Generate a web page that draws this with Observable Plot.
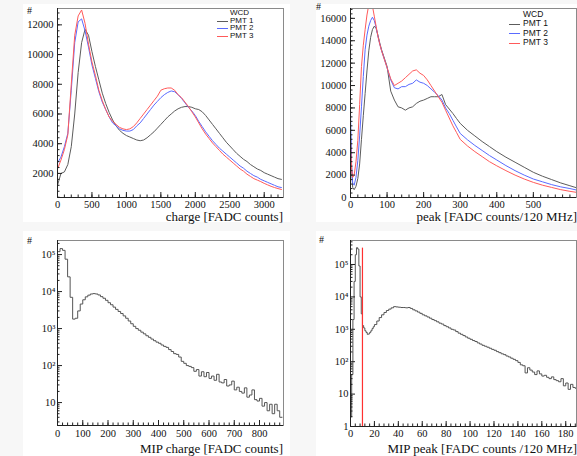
<!DOCTYPE html>
<html><head><meta charset="utf-8">
<script src="https://cdn.jsdelivr.net/npm/d3@7"></script>
<script src="https://cdn.jsdelivr.net/npm/@observablehq/plot@0.6"></script>
<style>
body{margin:0;background:#f7f7f7;}
#root{position:relative;width:577px;height:456px;overflow:hidden;font-family:"Liberation Serif","Times New Roman",serif;}
.pad{position:absolute;background:#fff;}
.panel{position:absolute;}
.lbl{position:absolute;white-space:nowrap;color:#111;line-height:1;}
.ttl{font-size:13px;}
.hash{font-size:10px;}
.leg{position:absolute;font-family:"Liberation Sans",Arial,sans-serif;color:#111;white-space:nowrap;line-height:1;}
.sw{position:absolute;height:0;border-top:1px solid;}
</style></head>
<body><div id="root">
<div class="pad" style="left:23px;top:4px;width:267px;height:218px"></div>
<div class="pad" style="left:316px;top:4px;width:261px;height:218px"></div>
<div class="pad" style="left:23px;top:231px;width:267px;height:225px"></div>
<div class="pad" style="left:316px;top:231px;width:261px;height:225px"></div>
</div>
<script>
// ---------- data ----------
const seriesNames = ["PMT 1", "PMT 2", "PMT 3"];
const seriesColors = ["#5c5c5c", "#5a6bff", "#ff5a5a"];

// charge histogram (FADC counts)
const chargeBins = [0,50,100,150,200,250,300,350,400,450,500,550,600,650,700,750,800,850,900,950,1000,1050,1100,1150,1200,1250,1300,1350,1400,1450,1500,1550,1600,1650,1700,1750,1800,1850,1900,1950,2000,2050,2100,2150,2200,2250,2300,2350,2400,2450,2500,2550,2600,2650,2700,2750,2800,2850,2900,2950,3000,3050,3100,3150,3200,3250];
const chargePMT1 = [1200,2000,2100,2600,3800,6000,8800,10800,11700,11300,10200,9200,8300,7400,6700,6100,5600,5200,4900,4700,4550,4450,4350,4250,4200,4250,4400,4600,4800,5050,5300,5550,5800,6000,6200,6350,6450,6500,6500,6450,6350,6300,6150,5900,5600,5300,5000,4700,4400,4100,3850,3600,3350,3150,2950,2800,2600,2450,2300,2200,2050,1950,1850,1750,1650,1600];
const chargePMT2 = [2700,3100,3800,4700,7600,10800,12200,12400,11600,10500,9300,8400,7500,6800,6300,5800,5400,5200,5000,4900,4850,4850,4950,5200,5400,5700,6000,6300,6600,6850,7100,7300,7450,7550,7500,7300,7050,6750,6450,6200,5900,5500,5150,4800,4500,4200,3950,3700,3500,3300,3100,2900,2700,2500,2350,2150,2000,1850,1750,1600,1500,1400,1300,1200,1100,1050];
const chargePMT3 = [2300,2900,3600,4600,8000,11300,12600,13000,12100,10700,9500,8600,7600,6900,6300,5800,5500,5300,5100,5000,4950,5000,5150,5400,5700,6000,6300,6600,6900,7200,7600,7700,7750,7750,7600,7300,7100,6800,6500,6150,5800,5400,5000,4650,4350,4050,3800,3550,3300,3100,2900,2700,2500,2300,2150,1950,1800,1650,1550,1450,1330,1230,1130,1050,980,920];

// peak histogram (FADC counts/120 MHz)
const peakBins = [0,3,6,10,15,20,25,30,35,40,45,50,55,60,65,70,75,80,85,90,95,100,110,120,130,140,150,160,170,180,190,200,210,220,230,240,250,260,270,280,290,300,320,340,360,380,400,425,450,475,500,525,550,575,600,620];
const peakPMT1 = [6000,2500,900,700,1000,1700,3000,5200,7300,9300,11300,13100,14300,15000,15300,15100,14500,13800,13200,12700,12200,11700,9500,8700,8100,8000,7800,8000,8100,8400,8600,8700,8850,9000,9000,9000,9200,8300,7900,7500,7050,6620,6000,5500,5000,4550,4100,3600,3150,2700,2250,1900,1600,1300,1050,850];
const peakPMT2 = [7600,3000,1300,1100,1800,3300,5500,8100,10800,13200,14500,15300,15800,16100,15800,15200,14400,13700,13100,12600,12100,11600,10500,9800,9700,9900,9900,10100,10200,10500,10300,10200,10000,9700,9400,9100,8700,8000,7500,6900,6300,5720,5150,4650,4200,3750,3350,2850,2400,2000,1650,1400,1150,950,800,650];
const peakPMT3 = [5000,2500,1800,2000,3200,5100,8300,11700,13600,15000,16300,17200,17200,17100,16200,15300,14400,13700,13100,12600,12100,11600,10600,10000,10200,10400,10700,11000,11300,11400,11100,10900,10500,10000,9500,9000,8500,7800,7100,6400,5800,5190,4600,4100,3650,3200,2830,2400,2000,1650,1350,1100,900,700,550,450];

// MIP charge histogram
const mipChargeBins = [0,10,20,30,40,50,60,70,80,90,100,110,120,130,140,150,160,170,180,190,200,210,220,230,240,250,260,270,280,290,300,310,320,330,340,350,360,370,380,390,400,410,420,430,440,450,460,470,480,490,500,510,520,530,540,550,560,570,580,590,600,610,620,630,640,650,660,670,680,690,700,710,720,730,740,750,760,770,780,790,800,810,820,830,840,850,860,870,880,890];
const mipChargeCounts = [120000,145000,130000,75000,25000,7000,1800,1900,3000,4600,6000,7200,8000,8600,8800,8600,8100,7300,6600,5800,5000,4400,3800,3300,2900,2550,2200,1900,1600,1350,1150,1000,900,800,720,640,580,520,470,430,400,360,330,310,270,240,210,200,170,130,115,100,95,88,70,78,52,68,50,65,45,52,40,58,36,34,42,28,30,38,22,26,20,18,25,14,16,22,12,11,13,8,10,6,9,5,9,6,4,4];

// MIP peak histogram
const mipPeakBins = [0,1,2,3,4,5,6,7,8,9,10,11,12,13,14,15,16,17,18,19,20,22,24,26,28,30,32,34,36,38,40,42,44,46,48,50,52,54,56,58,60,62,64,66,68,70,72,74,76,78,80,82,84,86,88,90,92,94,96,98,100,102,104,106,108,110,112,114,116,118,120,122,124,126,128,130,132,134,136,138,140,142,144,146,148,150,152,154,156,158,160,162,164,166,168,170,172,174,176,178,180,182,184,186,188,189];
const mipPeakCounts = [2,40,2000,30000,200000,330000,300000,90000,10000,3000,1300,1100,900,800,700,720,800,900,1050,1200,1400,1800,2300,2800,3300,3800,4200,4600,5000,4900,4800,4700,4700,4600,4700,4400,4000,3700,3400,3100,2800,2600,2400,2200,2000,1850,1700,1550,1450,1300,1200,1100,1000,950,850,760,700,640,580,530,490,450,420,380,350,320,300,280,260,240,225,205,190,175,165,150,140,128,118,108,95,80,75,45,65,55,48,40,52,42,36,38,33,30,34,28,26,24,30,18,22,14,20,16,15,15];
const mipPeakCutX = [10];
const mipPeakCutTop = [320000];

// axes
const chargeDomain = [0, 3280], chargeCountDomain = [380, 13100];
const chargeTicks = [0,500,1000,1500,2000,2500,3000];
const chargeCountTicks = [2000,4000,6000,8000,10000,12000];
const peakDomain = [0, 618], peakCountDomain = [0, 16880];
const peakTicks = [0,100,200,300,400,500];
const peakCountTicks = [0,2000,4000,6000,8000,10000,12000,14000,16000];
const mipChargeDomain = [0, 895], mipChargeCountDomain = [2.4, 240000];
const mipChargeTicks = [0,100,200,300,400,500,600,700,800];
const mipPeakDomain = [0, 189], mipPeakCountDomain = [1, 550000];
const mipPeakTicks = [0,20,40,60,80,100,120,140,160,180];
const logTicks = [1,10,100,1000,10000,100000];
const logLabels = {1:"1",10:"10",100:"10\u00B2",1000:"10\u00B3",10000:"10\u2074",100000:"10\u2075"};

// ---------- helpers ----------
const root = document.getElementById("root");
const inDom = (v, d) => v >= Math.min(d[0], d[1]) - 1e-9 && v <= Math.max(d[0], d[1]) + 1e-9;
function minorLinear(step, d) { return d3.range(0, d[1] + 1e-9, step).filter(v => inDom(v, d)); }
function minorLog(d) {
  const out = [];
  for (let e = -1; e < 7; e++) for (let m = 2; m < 10; m++) { const v = m * 10 ** e; if (inDom(v, d)) out.push(v); }
  return out;
}
function tickMarks(xMaj, xMin, yMaj, yMin, ih, iw) {
  const c = "#222";
  return [
    Plot.tickX(xMaj, {x: d => d, insetTop: ih - 5, stroke: c}),
    Plot.tickX(xMin, {x: d => d, insetTop: ih - 2.5, stroke: c}),
    Plot.tickY(yMaj, {y: d => d, insetRight: iw - 5, stroke: c}),
    Plot.tickY(yMin, {y: d => d, insetRight: iw - 2.5, stroke: c})
  ];
}
function hist(bins, lists) {
  return lists.flatMap((vals, k) => bins.map((b, i) => ({x: b, y: vals[i], s: seriesNames[k]})));
}
function addPlot(opts, left, top) {
  const {width, height, mt, mb, ml, mr, xd, yd, ylog, xTicks, yTicks, xMinor, yMinor, yFmt, xPad, marks} = opts;
  const ih = height - mt - mb, iw = width - ml - mr;
  const xMaj = xTicks.filter(v => inDom(v, xd));
  const yMaj = yTicks.filter(v => inDom(v, yd));
  const p = Plot.plot({
    width, height, marginTop: mt, marginBottom: mb, marginLeft: ml, marginRight: mr,
    x: {domain: xd},
    y: {domain: yd, type: ylog ? "log" : "linear"},
    color: {domain: seriesNames, range: seriesColors},
    style: {fontFamily: '"Liberation Serif","Times New Roman",serif', fontSize: "10.5px", background: "transparent", color: "#111", overflow: "visible"},
    marks: [
      ...marks,
      Plot.frame({stroke: "#8a8a8a"}),
      Plot.ruleX([xd[0]], {stroke: "#222"}),
      Plot.ruleY([yd[0]], {stroke: "#222"}),
      ...tickMarks(xMaj, xMinor, yMaj, yMinor, ih, iw),
      Plot.axisX({ticks: xMaj, tickSize: 0, tickPadding: xPad, tickFormat: d => String(d), label: null}),
      Plot.axisY({ticks: yMaj, tickSize: 0, tickPadding: ylog ? 2 : 4, tickFormat: yFmt, label: null})
    ]
  });
  const div = document.createElement("div");
  div.className = "panel";
  div.style.left = left + "px"; div.style.top = top + "px";
  div.appendChild(p);
  root.appendChild(div);
}
function addText(cls, text, x, y, anchorRight, size) {
  const s = document.createElement("div");
  s.className = "lbl " + cls;
  s.textContent = text;
  if (size) s.style.fontSize = size + "px";
  s.style.top = y + "px";
  if (anchorRight) s.style.right = (577 - x) + "px"; else s.style.left = x + "px";
  root.appendChild(s);
}
function addLegend(x, y0, dy, size, swLeft, swWidth) {
  const h = document.createElement("div");
  h.className = "leg"; h.textContent = "WCD";
  h.style.left = x + "px"; h.style.top = (y0 - size / 2) + "px"; h.style.fontSize = size + "px";
  root.appendChild(h);
  seriesNames.forEach((n, i) => {
    const yc = y0 + dy * (i + 1);
    const sw = document.createElement("div");
    sw.className = "sw"; sw.style.left = swLeft + "px"; sw.style.width = swWidth + "px";
    sw.style.top = Math.round(yc) + "px"; sw.style.borderTopColor = seriesColors[i];
    root.appendChild(sw);
    const t = document.createElement("div");
    t.className = "leg"; t.textContent = n;
    t.style.left = x + "px"; t.style.top = (yc - size / 2) + "px"; t.style.fontSize = size + "px";
    root.appendChild(t);
  });
}
const lin = d => String(d);
const logf = d => logLabels[d] ?? "";

// ---------- top-left: charge ----------
addPlot({
  width: 290, height: 225, mt: 8, mb: 28, ml: 57, mr: 7,
  xd: chargeDomain, yd: chargeCountDomain, ylog: false,
  xTicks: chargeTicks, yTicks: chargeCountTicks,
  xMinor: minorLinear(100, chargeDomain), yMinor: minorLinear(400, chargeCountDomain),
  yFmt: lin, xPad: 3,
  marks: [Plot.line(hist(chargeBins, [chargePMT1, chargePMT2, chargePMT3]), {x: "x", y: "y", z: "s", stroke: "s", curve: "linear", strokeWidth: 1, clip: true})]
}, 0, 0);

// ---------- top-right: peak ----------
addPlot({
  width: 287, height: 225, mt: 8, mb: 28, ml: 60, mr: 1,
  xd: peakDomain, yd: peakCountDomain, ylog: false,
  xTicks: peakTicks, yTicks: peakCountTicks,
  xMinor: minorLinear(20, peakDomain), yMinor: minorLinear(400, peakCountDomain),
  yFmt: lin, xPad: 3,
  marks: [Plot.line(hist(peakBins, [peakPMT1, peakPMT2, peakPMT3]), {x: "x", y: "y", z: "s", stroke: "s", curve: "linear", strokeWidth: 1, clip: true})]
}, 290, 0);

// ---------- bottom-left: MIP charge ----------
addPlot({
  width: 290, height: 231, mt: 15, mb: 31, ml: 57, mr: 7,
  xd: mipChargeDomain, yd: mipChargeCountDomain, ylog: true,
  xTicks: mipChargeTicks, yTicks: logTicks,
  xMinor: minorLinear(20, mipChargeDomain), yMinor: minorLog(mipChargeCountDomain),
  yFmt: logf, xPad: 4,
  marks: [Plot.line(mipChargeBins.map((b, i) => ({x: b, y: mipChargeCounts[i]})), {x: "x", y: "y", stroke: "#555", curve: "step-after", strokeWidth: 1, clip: true})]
}, 0, 225);

// ---------- bottom-right: MIP peak ----------
addPlot({
  width: 287, height: 231, mt: 15, mb: 30, ml: 60, mr: 1,
  xd: mipPeakDomain, yd: mipPeakCountDomain, ylog: true,
  xTicks: mipPeakTicks, yTicks: logTicks,
  xMinor: minorLinear(4, mipPeakDomain), yMinor: minorLog(mipPeakCountDomain),
  yFmt: logf, xPad: 3,
  marks: [
    Plot.line(mipPeakBins.map((b, i) => ({x: b, y: mipPeakCounts[i]})), {x: "x", y: "y", stroke: "#555", curve: "step-after", strokeWidth: 1, clip: true}),
    Plot.ruleX(mipPeakCutX, {x: d => d, y1: 1, y2: (d, i) => mipPeakCutTop[i], stroke: "#ff3030", strokeWidth: 1.2})
  ]
}, 290, 225);

// ---------- texts ----------
addText("hash", "#", 27, 6);
addText("hash", "#", 316, 2);
addText("hash", "#", 27, 236);
addText("hash", "#", 319, 235);
addText("ttl", "charge [FADC counts]", 283, 210, true);
addText("ttl", "peak [FADC counts/120 MHz]", 577, 210, true);
addText("ttl", "MIP charge [FADC counts]", 283, 442, true);
addText("ttl", "MIP peak [FADC counts /120 MHz]", 577, 442, true);
addLegend(230, 13, 7.5, 8, 217, 11);
addLegend(523, 14, 9.5, 8.5, 509, 11);
</script>
</body></html>
